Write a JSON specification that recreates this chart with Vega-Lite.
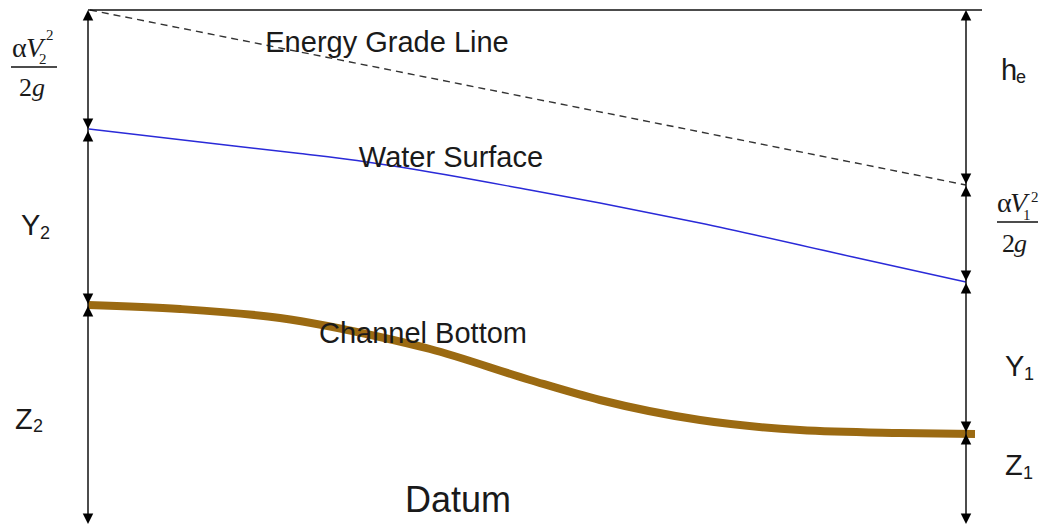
{
  "$schema": "https://vega.github.io/schema/vega-lite/v6.json",
  "width": 1042,
  "height": 527,
  "padding": 0,
  "autosize": {"type": "fit", "contains": "padding"},
  "background": "white",
  "config": {"view": {"stroke": null}},
  "datasets": {
    "hrules": [
      {"x": 88, "x2": 982, "y": 10, "part": "top"},
      {"x": 11, "x2": 57, "y": 67, "part": "fracL"},
      {"x": 997, "x2": 1038, "y": 222, "part": "fracR"}
    ],
    "vrules": [
      {"x": 88, "y": 12, "y2": 522},
      {"x": 966, "y": 12, "y2": 522}
    ],
    "egl": [
      {"x": 90, "y": 10},
      {"x": 966, "y": 185}
    ],
    "water": [
      {"x": 89, "y": 129}, {"x": 200, "y": 142}, {"x": 300, "y": 153.5},
      {"x": 357, "y": 160.5}, {"x": 400, "y": 167}, {"x": 530, "y": 190},
      {"x": 600, "y": 203}, {"x": 700, "y": 223}, {"x": 853, "y": 257},
      {"x": 966, "y": 282}
    ],
    "bottom": [
      {"x": 88, "y": 305}, {"x": 180, "y": 309}, {"x": 280, "y": 318},
      {"x": 380, "y": 337}, {"x": 430, "y": 349}, {"x": 530, "y": 380},
      {"x": 600, "y": 400}, {"x": 700, "y": 420}, {"x": 800, "y": 430},
      {"x": 900, "y": 433}, {"x": 975, "y": 434}
    ],
    "heads": [
      {"x": 88, "y": 10, "dir": "up"},
      {"x": 88, "y": 129, "dir": "down"},
      {"x": 88, "y": 131, "dir": "up"},
      {"x": 88, "y": 304, "dir": "down"},
      {"x": 88, "y": 306, "dir": "up"},
      {"x": 88, "y": 524, "dir": "down"},
      {"x": 966, "y": 10, "dir": "up"},
      {"x": 966, "y": 184, "dir": "down"},
      {"x": 966, "y": 186, "dir": "up"},
      {"x": 966, "y": 281, "dir": "down"},
      {"x": 966, "y": 283, "dir": "up"},
      {"x": 966, "y": 432, "dir": "down"},
      {"x": 966, "y": 434, "dir": "up"},
      {"x": 966, "y": 524, "dir": "down"}
    ],
    "labels": [
      {"x": 387, "y": 52, "text": "Energy Grade Line"},
      {"x": 451, "y": 167, "text": "Water Surface"},
      {"x": 423, "y": 343, "text": "Channel Bottom"}
    ],
    "datum": [
      {"x": 458, "y": 512, "text": "Datum"}
    ],
    "letters": [
      {"x": 21, "y": 235, "text": "Y"},
      {"x": 15, "y": 429, "text": "Z"},
      {"x": 1001, "y": 80, "text": "h"},
      {"x": 1005, "y": 376, "text": "Y"},
      {"x": 1005, "y": 475, "text": "Z"}
    ],
    "subs": [
      {"x": 40, "y": 239, "text": "2"},
      {"x": 33, "y": 432, "text": "2"},
      {"x": 1016, "y": 83, "text": "e"},
      {"x": 1024, "y": 380, "text": "1"},
      {"x": 1023, "y": 479, "text": "1"}
    ],
    "alpha": [
      {"x": 12, "y": 57, "text": "α"},
      {"x": 997, "y": 212, "text": "α"}
    ],
    "vee": [
      {"x": 26, "y": 57, "text": "V"},
      {"x": 1010, "y": 212, "text": "V"}
    ],
    "fracsmall": [
      {"x": 46, "y": 40, "text": "2"},
      {"x": 39, "y": 64, "text": "2"},
      {"x": 1031, "y": 202, "text": "2"},
      {"x": 1023, "y": 220, "text": "1"}
    ],
    "two": [
      {"x": 19, "y": 96, "text": "2"},
      {"x": 1002, "y": 252, "text": "2"}
    ],
    "gee": [
      {"x": 32, "y": 96, "text": "g"},
      {"x": 1014, "y": 252, "text": "g"}
    ]
  },
  "layer": [
    {
      "data": {"name": "egl"},
      "mark": {"type": "line", "color": "#333333", "strokeWidth": 1.4, "strokeDash": [7, 5]},
      "encoding": {
        "x": {"field": "x", "type": "quantitative", "axis": null, "scale": {"domain": [0, 1042], "nice": false, "zero": false}},
        "y": {"field": "y", "type": "quantitative", "axis": null, "scale": {"domain": [0, 527], "nice": false, "zero": false, "reverse": true}}
      }
    },
    {
      "data": {"name": "water"},
      "mark": {"type": "line", "color": "#2a2ad8", "strokeWidth": 1.5, "interpolate": "monotone"},
      "encoding": {
        "x": {"field": "x", "type": "quantitative", "axis": null},
        "y": {"field": "y", "type": "quantitative", "axis": null}
      }
    },
    {
      "data": {"name": "bottom"},
      "mark": {"type": "line", "color": "#9b6a12", "strokeWidth": 8, "interpolate": "monotone", "strokeCap": "butt"},
      "encoding": {
        "x": {"field": "x", "type": "quantitative", "axis": null},
        "y": {"field": "y", "type": "quantitative", "axis": null}
      }
    },
    {
      "data": {"name": "hrules"},
      "mark": {"type": "rule", "color": "#111111", "strokeWidth": 1.5},
      "encoding": {
        "x": {"field": "x", "type": "quantitative", "axis": null},
        "x2": {"field": "x2"},
        "y": {"field": "y", "type": "quantitative", "axis": null}
      }
    },
    {
      "data": {"name": "vrules"},
      "mark": {"type": "rule", "color": "#111111", "strokeWidth": 1.5},
      "encoding": {
        "x": {"field": "x", "type": "quantitative", "axis": null},
        "y": {"field": "y", "type": "quantitative", "axis": null},
        "y2": {"field": "y2"}
      }
    },
    {
      "data": {"name": "heads"},
      "mark": {"type": "point", "filled": true, "color": "#000000", "opacity": 1, "size": 25, "strokeWidth": 0},
      "encoding": {
        "x": {"field": "x", "type": "quantitative", "axis": null},
        "y": {"field": "y", "type": "quantitative", "axis": null},
        "shape": {"field": "dir", "type": "nominal", "legend": null,
          "scale": {"domain": ["up", "down"], "range": ["M0,0L-2.1,4.2L2.1,4.2Z", "M0,0L-2.1,-4.2L2.1,-4.2Z"]}}
      }
    },
    {
      "data": {"name": "labels"},
      "mark": {"type": "text", "font": "Liberation Sans", "fontSize": 29, "color": "#1a1a1a", "align": "center", "baseline": "alphabetic"},
      "encoding": {
        "x": {"field": "x", "type": "quantitative", "axis": null},
        "y": {"field": "y", "type": "quantitative", "axis": null},
        "text": {"field": "text"}
      }
    },
    {
      "data": {"name": "datum"},
      "mark": {"type": "text", "font": "Liberation Sans", "fontSize": 36, "color": "#1a1a1a", "align": "center", "baseline": "alphabetic"},
      "encoding": {
        "x": {"field": "x", "type": "quantitative", "axis": null},
        "y": {"field": "y", "type": "quantitative", "axis": null},
        "text": {"field": "text"}
      }
    },
    {
      "data": {"name": "letters"},
      "mark": {"type": "text", "font": "Liberation Sans", "fontSize": 29, "color": "#1a1a1a", "align": "left", "baseline": "alphabetic"},
      "encoding": {
        "x": {"field": "x", "type": "quantitative", "axis": null},
        "y": {"field": "y", "type": "quantitative", "axis": null},
        "text": {"field": "text"}
      }
    },
    {
      "data": {"name": "subs"},
      "mark": {"type": "text", "font": "Liberation Sans", "fontSize": 18, "color": "#1a1a1a", "align": "left", "baseline": "alphabetic"},
      "encoding": {
        "x": {"field": "x", "type": "quantitative", "axis": null},
        "y": {"field": "y", "type": "quantitative", "axis": null},
        "text": {"field": "text"}
      }
    },
    {
      "data": {"name": "alpha"},
      "mark": {"type": "text", "font": "Liberation Serif", "fontSize": 28, "color": "#1a1a1a", "align": "left", "baseline": "alphabetic"},
      "encoding": {
        "x": {"field": "x", "type": "quantitative", "axis": null},
        "y": {"field": "y", "type": "quantitative", "axis": null},
        "text": {"field": "text"}
      }
    },
    {
      "data": {"name": "vee"},
      "mark": {"type": "text", "font": "Liberation Serif", "fontStyle": "italic", "fontSize": 28, "color": "#1a1a1a", "align": "left", "baseline": "alphabetic"},
      "encoding": {
        "x": {"field": "x", "type": "quantitative", "axis": null},
        "y": {"field": "y", "type": "quantitative", "axis": null},
        "text": {"field": "text"}
      }
    },
    {
      "data": {"name": "fracsmall"},
      "mark": {"type": "text", "font": "Liberation Serif", "fontSize": 15, "color": "#1a1a1a", "align": "left", "baseline": "alphabetic"},
      "encoding": {
        "x": {"field": "x", "type": "quantitative", "axis": null},
        "y": {"field": "y", "type": "quantitative", "axis": null},
        "text": {"field": "text"}
      }
    },
    {
      "data": {"name": "two"},
      "mark": {"type": "text", "font": "Liberation Serif", "fontSize": 26, "color": "#1a1a1a", "align": "left", "baseline": "alphabetic"},
      "encoding": {
        "x": {"field": "x", "type": "quantitative", "axis": null},
        "y": {"field": "y", "type": "quantitative", "axis": null},
        "text": {"field": "text"}
      }
    },
    {
      "data": {"name": "gee"},
      "mark": {"type": "text", "font": "Liberation Serif", "fontStyle": "italic", "fontSize": 26, "color": "#1a1a1a", "align": "left", "baseline": "alphabetic"},
      "encoding": {
        "x": {"field": "x", "type": "quantitative", "axis": null},
        "y": {"field": "y", "type": "quantitative", "axis": null},
        "text": {"field": "text"}
      }
    }
  ]
}
